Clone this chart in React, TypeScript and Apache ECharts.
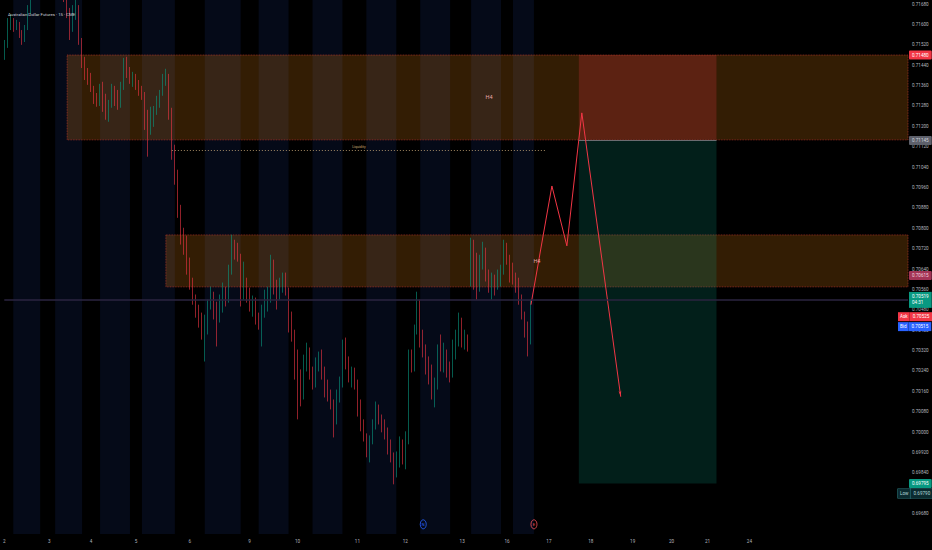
import React, { useEffect, useRef } from "react";
import * as echarts from "echarts";

const TITLE = "Australian Dollar Futures · 15 · CME";
const SLOT_COUNT = 303;

const dayTicks: [number, string][] = [
  [0, "2"], [15, "3"], [29, "4"], [44, "5"], [62, "6"], [82, "9"], [98, "10"],
  [118, "11"], [134, "12"], [153, "13"], [168, "16"], [182, "17"], [196, "18"],
  [210, "19"], [223, "20"], [235, "21"], [249, "24"],
];

const sessionBands: [number, number][] = [
  [3, 12], [17, 26], [32, 42], [46, 57], [67, 79], [85, 95], [103, 113],
  [121, 131], [139, 149], [156, 166], [170, 177],
];

// [open, close, low, high]
const candles: number[][] = [
  [0.71480, 0.71520, 0.71461, 0.71539], [0.71520, 0.71598, 0.71508, 0.71625],
  [0.71598, 0.71610, 0.71578, 0.71641], [0.71610, 0.71586, 0.71571, 0.71625],
  [0.71586, 0.71602, 0.71578, 0.71618], [0.71602, 0.71559, 0.71547, 0.71610],
  [0.71559, 0.71539, 0.71520, 0.71578], [0.71539, 0.71586, 0.71531, 0.71598],
  [0.71586, 0.71649, 0.71578, 0.71676], [0.71649, 0.71735, 0.71641, 0.71774],
  [0.71735, 0.71794, 0.71716, 0.71833], [0.71794, 0.71853, 0.71774, 0.71892],
  [0.71853, 0.71833, 0.71814, 0.71912], [0.71833, 0.71892, 0.71814, 0.71931],
  [0.71892, 0.71872, 0.71853, 0.71939], [0.71872, 0.71814, 0.71794, 0.71912],
  [0.71814, 0.71845, 0.71794, 0.71872], [0.71845, 0.71794, 0.71774, 0.71861],
  [0.71794, 0.71755, 0.71735, 0.71814], [0.71755, 0.71774, 0.71727, 0.71806],
  [0.71774, 0.71716, 0.71688, 0.71794], [0.71716, 0.71657, 0.71625, 0.71735],
  [0.71657, 0.71578, 0.71539, 0.71665], [0.71578, 0.71637, 0.71571, 0.71676],
  [0.71637, 0.71665, 0.71618, 0.71704], [0.71665, 0.71539, 0.71520, 0.71676],
  [0.71539, 0.71453, 0.71429, 0.71547], [0.71453, 0.71422, 0.71382, 0.71473],
  [0.71422, 0.71382, 0.71363, 0.71429], [0.71382, 0.71351, 0.71335, 0.71410],
  [0.71351, 0.71312, 0.71288, 0.71359], [0.71312, 0.71296, 0.71277, 0.71331],
  [0.71296, 0.71343, 0.71280, 0.71367], [0.71343, 0.71320, 0.71257, 0.71375],
  [0.71320, 0.71257, 0.71226, 0.71328], [0.71257, 0.71288, 0.71218, 0.71304],
  [0.71288, 0.71335, 0.71273, 0.71367], [0.71335, 0.71312, 0.71280, 0.71359],
  [0.71312, 0.71288, 0.71265, 0.71343], [0.71288, 0.71351, 0.71273, 0.71375],
  [0.71351, 0.71445, 0.71343, 0.71469], [0.71445, 0.71414, 0.71390, 0.71473],
  [0.71414, 0.71390, 0.71367, 0.71433], [0.71390, 0.71398, 0.71355, 0.71414],
  [0.71398, 0.71367, 0.71343, 0.71406], [0.71367, 0.71343, 0.71320, 0.71382],
  [0.71343, 0.71328, 0.71304, 0.71359], [0.71328, 0.71233, 0.71186, 0.71335],
  [0.71233, 0.71179, 0.71081, 0.71265], [0.71179, 0.71233, 0.71167, 0.71277],
  [0.71233, 0.71257, 0.71198, 0.71280], [0.71257, 0.71304, 0.71245, 0.71320],
  [0.71304, 0.71328, 0.71273, 0.71343], [0.71328, 0.71382, 0.71320, 0.71406],
  [0.71382, 0.71398, 0.71359, 0.71426], [0.71398, 0.71265, 0.71226, 0.71406],
  [0.71265, 0.71108, 0.71069, 0.71273], [0.71108, 0.71010, 0.70971, 0.71128],
  [0.71010, 0.70873, 0.70841, 0.71030], [0.70873, 0.70775, 0.70736, 0.70892],
  [0.70775, 0.70763, 0.70696, 0.70802], [0.70763, 0.70669, 0.70618, 0.70771],
  [0.70669, 0.70591, 0.70559, 0.70685], [0.70591, 0.70528, 0.70500, 0.70606],
  [0.70528, 0.70481, 0.70449, 0.70540], [0.70481, 0.70434, 0.70410, 0.70500],
  [0.70434, 0.70402, 0.70363, 0.70469], [0.70402, 0.70422, 0.70277, 0.70461],
  [0.70422, 0.70500, 0.70383, 0.70520], [0.70500, 0.70540, 0.70481, 0.70571],
  [0.70540, 0.70481, 0.70442, 0.70551], [0.70481, 0.70449, 0.70336, 0.70512],
  [0.70449, 0.70520, 0.70430, 0.70540], [0.70520, 0.70551, 0.70469, 0.70587],
  [0.70551, 0.70520, 0.70493, 0.70571], [0.70520, 0.70638, 0.70508, 0.70657],
  [0.70638, 0.70736, 0.70618, 0.70775], [0.70736, 0.70716, 0.70677, 0.70755],
  [0.70716, 0.70692, 0.70669, 0.70743], [0.70692, 0.70559, 0.70493, 0.70700],
  [0.70559, 0.70598, 0.70520, 0.70669], [0.70598, 0.70551, 0.70508, 0.70606],
  [0.70551, 0.70500, 0.70473, 0.70567], [0.70500, 0.70520, 0.70453, 0.70536],
  [0.70520, 0.70449, 0.70422, 0.70528], [0.70449, 0.70426, 0.70402, 0.70469],
  [0.70426, 0.70481, 0.70336, 0.70500], [0.70481, 0.70520, 0.70449, 0.70559],
  [0.70520, 0.70540, 0.70473, 0.70571], [0.70540, 0.70657, 0.70508, 0.70696],
  [0.70657, 0.70579, 0.70540, 0.70677], [0.70579, 0.70540, 0.70481, 0.70598],
  [0.70540, 0.70579, 0.70520, 0.70606], [0.70579, 0.70606, 0.70547, 0.70626],
  [0.70606, 0.70559, 0.70536, 0.70626], [0.70559, 0.70461, 0.70391, 0.70567],
  [0.70461, 0.70383, 0.70355, 0.70473], [0.70383, 0.70304, 0.70206, 0.70402],
  [0.70304, 0.70226, 0.70050, 0.70324], [0.70226, 0.70148, 0.70101, 0.70246],
  [0.70148, 0.70285, 0.70128, 0.70304], [0.70285, 0.70316, 0.70238, 0.70351],
  [0.70316, 0.70226, 0.70206, 0.70332], [0.70226, 0.70187, 0.70167, 0.70257],
  [0.70187, 0.70265, 0.70175, 0.70293], [0.70265, 0.70300, 0.70238, 0.70316],
  [0.70300, 0.70238, 0.70206, 0.70324], [0.70238, 0.70187, 0.70136, 0.70257],
  [0.70187, 0.70148, 0.70120, 0.70206], [0.70148, 0.70108, 0.70089, 0.70167],
  [0.70108, 0.70050, 0.69979, 0.70128], [0.70050, 0.70148, 0.70030, 0.70167],
  [0.70148, 0.70187, 0.70116, 0.70218], [0.70187, 0.70324, 0.70175, 0.70363],
  [0.70324, 0.70277, 0.70246, 0.70371], [0.70277, 0.70214, 0.70195, 0.70297],
  [0.70214, 0.70238, 0.70175, 0.70257], [0.70238, 0.70187, 0.70167, 0.70253],
  [0.70187, 0.70108, 0.70061, 0.70206], [0.70108, 0.70030, 0.70003, 0.70128],
  [0.70030, 0.69979, 0.69963, 0.70050], [0.69979, 0.69932, 0.69901, 0.69995],
  [0.69932, 0.69971, 0.69881, 0.69987], [0.69971, 0.70030, 0.69952, 0.70050],
  [0.70030, 0.70097, 0.70010, 0.70120], [0.70097, 0.70057, 0.70030, 0.70108],
  [0.70057, 0.70030, 0.69999, 0.70069], [0.70030, 0.70003, 0.69971, 0.70050],
  [0.70003, 0.69952, 0.69912, 0.70018], [0.69952, 0.69901, 0.69881, 0.69971],
  [0.69901, 0.69854, 0.69795, 0.69920], [0.69854, 0.69893, 0.69822, 0.69924],
  [0.69893, 0.69940, 0.69861, 0.69983], [0.69940, 0.69912, 0.69873, 0.69971],
  [0.69912, 0.69971, 0.69854, 0.70003], [0.69971, 0.70285, 0.69952, 0.70324],
  [0.70285, 0.70253, 0.70234, 0.70324], [0.70253, 0.70402, 0.70238, 0.70422],
  [0.70402, 0.70500, 0.70383, 0.70551], [0.70500, 0.70363, 0.70332, 0.70520],
  [0.70363, 0.70324, 0.70293, 0.70402], [0.70324, 0.70277, 0.70226, 0.70344],
  [0.70277, 0.70238, 0.70187, 0.70297], [0.70238, 0.70167, 0.70128, 0.70265],
  [0.70167, 0.70187, 0.70097, 0.70214], [0.70187, 0.70324, 0.70167, 0.70344],
  [0.70324, 0.70285, 0.70238, 0.70383], [0.70285, 0.70304, 0.70234, 0.70351],
  [0.70304, 0.70246, 0.70214, 0.70324], [0.70246, 0.70226, 0.70195, 0.70277],
  [0.70226, 0.70332, 0.70214, 0.70363], [0.70332, 0.70383, 0.70285, 0.70402],
  [0.70383, 0.70442, 0.70336, 0.70469], [0.70442, 0.70363, 0.70332, 0.70449],
  [0.70363, 0.70371, 0.70324, 0.70402], [0.70371, 0.70344, 0.70316, 0.70383],
  [0.70677, 0.70696, 0.70571, 0.70763], [0.70696, 0.70618, 0.70559, 0.70755],
  [0.70618, 0.70579, 0.70520, 0.70704], [0.70579, 0.70669, 0.70551, 0.70696],
  [0.70669, 0.70716, 0.70638, 0.70747], [0.70716, 0.70618, 0.70591, 0.70724],
  [0.70618, 0.70579, 0.70547, 0.70638], [0.70579, 0.70606, 0.70520, 0.70626],
  [0.70606, 0.70567, 0.70536, 0.70618], [0.70567, 0.70598, 0.70559, 0.70638],
  [0.70598, 0.70638, 0.70571, 0.70657], [0.70638, 0.70736, 0.70618, 0.70755],
  [0.70736, 0.70685, 0.70657, 0.70743], [0.70685, 0.70645, 0.70587, 0.70696],
  [0.70645, 0.70618, 0.70579, 0.70665], [0.70618, 0.70591, 0.70547, 0.70626],
  [0.70591, 0.70528, 0.70500, 0.70606], [0.70528, 0.70461, 0.70442, 0.70540],
  [0.70461, 0.70402, 0.70371, 0.70473], [0.70402, 0.70363, 0.70297, 0.70434],
  [0.70363, 0.70500, 0.70344, 0.70520],
];

// zones: [start slot, end slot, low price, high price]
const supplyZone: number[] = [21, 302, 0.71147, 0.7148];
const demandZone: number[] = [54, 302, 0.7057, 0.70774];
const positionSlots: number[] = [192, 238];
const stopPrice = 0.7148;
const entryPrice = 0.71147;
const targetPrice = 0.69798;
const liquidityLine: number[] = [56, 181, 0.71107];
const projection: [number, number][] = [
  [176, 0.705], [183, 0.70966], [188, 0.70731], [193, 0.71253], [206, 0.70139],
];
const h4Labels: [number, number][] = [[162, 0.71316], [178, 0.70673]];
const eventMarks: [number, number, string, string][] = [
  [140, 0.69638, "N", "#2962ff"],
  [177, 0.69638, "E", "#f7525f"],
];
const lastPrice = 0.70519;

// right-axis tags: [position price, key text, value text, background, text colour]
const priceTags: [number, string, string, string, string][] = [
  [0.7148, "", "0.71480", "#f23645", "#ffffff"],
  [0.71145, "", "0.71145", "#5d606b", "#d1d4dc"],
  [0.70615, "", "0.70615", "#a33456", "#f3d6de"],
  [0.70453, "Ask", "0.70525", "#f23645", "#ffffff"],
  [0.70414, "Bid", "0.70515", "#2962ff", "#ffffff"],
  [0.69798, "", "0.69795", "#089981", "#ffffff"],
  [0.69759, "Low", "0.69790", "#0b2b30", "#b2d8d8"],
];

const FONT = "Roboto, sans-serif";

export default function App() {
  const ref = useRef<HTMLDivElement>(null);

  useEffect(() => {
    document.body.style.margin = "0";
    document.body.style.background = "#000";
    if (!ref.current) return;
    const chart = echarts.init(ref.current, undefined, { renderer: "svg" });

    const names: string[] = Array.from({ length: SLOT_COUNT }, () => "");
    dayTicks.forEach(([s, t]) => (names[s] = t));

    const tagLines = priceTags.map(([v, key, val, bg, fg]) => {
      const low = key === "Low";
      const seg = (pad: number[]) => ({
        backgroundColor: bg,
        color: fg,
        padding: pad,
        fontSize: 4.6,
        fontFamily: FONT,
        borderColor: low ? "#2c7d82" : bg,
        borderWidth: low ? 0.6 : 0,
      });
      return {
        yAxis: v,
        lineStyle: { color: "rgba(0,0,0,0)", width: 0 },
        label: {
          show: true,
          position: "end",
          distance: key ? -10 : 1,
          formatter: key ? `{k|${key}}{v|${val}}` : val,
          backgroundColor: key ? "transparent" : bg,
          color: fg,
          padding: key ? 0 : [2, 3],
          fontSize: 4.6,
          fontFamily: FONT,
          borderRadius: 1,
          rich: key ? { k: seg([2, 2]), v: seg([2, 3]) } : {},
        },
      };
    });

    const option: any = {
      animation: false,
      backgroundColor: "#000000",
      title: {
        text: TITLE,
        left: 3,
        top: 7,
        textStyle: { color: "#d1d4dc", fontSize: 4.3, fontWeight: "normal", fontFamily: FONT },
      },
      grid: { left: 0, right: 24, top: 0, bottom: 16, containLabel: false },
      xAxis: {
        type: "category",
        data: names,
        boundaryGap: false,
        axisLine: { show: false },
        axisTick: { show: false },
        splitLine: { show: false },
        axisLabel: { interval: 0, color: "#b2b5be", fontSize: 4.6, margin: 5, fontFamily: FONT },
      },
      yAxis: {
        type: "value",
        position: "right",
        min: 0.696,
        max: 0.71696,
        interval: 0.0008,
        axisLine: { show: false },
        axisTick: { show: false },
        splitLine: { show: false },
        axisLabel: {
          color: "#b2b5be",
          fontSize: 4.6,
          margin: 4,
          fontFamily: FONT,
          formatter: (v: number) => {
            const k = v / 0.0008;
            return Math.abs(k - Math.round(k)) < 1e-4 && v > 0.6961 && v < 0.7169 ? v.toFixed(5) : "";
          },
        },
      },
      series: [
        {
          type: "line",
          data: [],
          silent: true,
          markArea: {
            silent: true,
            z: 0,
            itemStyle: { color: "#050a18" },
            data: sessionBands.map(([a, b]) => [{ xAxis: a }, { xAxis: b }]),
          },
        },
        {
          type: "line",
          data: [],
          silent: true,
          markArea: {
            silent: true,
            z: 1,
            data: [
              [
                { xAxis: supplyZone[0], yAxis: supplyZone[3], itemStyle: { color: "rgba(255,145,20,0.2)", borderColor: "rgba(200,60,45,0.85)", borderWidth: 0.8, borderType: "dotted" } },
                { xAxis: supplyZone[1], yAxis: supplyZone[2] },
              ],
              [
                { xAxis: demandZone[0], yAxis: demandZone[3], itemStyle: { color: "rgba(255,145,20,0.2)", borderColor: "rgba(200,60,45,0.85)", borderWidth: 0.8, borderType: "dotted" } },
                { xAxis: demandZone[1], yAxis: demandZone[2] },
              ],
              [
                { xAxis: positionSlots[0], yAxis: stopPrice, itemStyle: { color: "rgba(242,54,69,0.22)" } },
                { xAxis: positionSlots[1], yAxis: entryPrice },
              ],
              [
                { xAxis: positionSlots[0], yAxis: entryPrice, itemStyle: { color: "rgba(8,153,129,0.2)" } },
                { xAxis: positionSlots[1], yAxis: targetPrice },
              ],
            ],
          },
          markLine: {
            silent: true,
            symbol: "none",
            precision: 6,
            data: [
              [
                {
                  coord: [liquidityLine[0], liquidityLine[2]],
                  lineStyle: { color: "#c9a878", width: 0.8, type: [1, 2] },
                  label: { show: true, formatter: "Liquidity", position: "insideMiddleTop", distance: 1, color: "#c9a878", fontSize: 3.6, fontFamily: FONT },
                },
                { coord: [liquidityLine[1], liquidityLine[2]] },
              ],
              [
                { coord: [positionSlots[0], entryPrice], lineStyle: { color: "#6b6b70", width: 1, type: "solid" }, label: { show: false } },
                { coord: [positionSlots[1], entryPrice] },
              ],
            ],
          },
        },
        {
          type: "candlestick",
          data: candles,
          clip: true,
          barWidth: 1.2,
          z: 2,
          itemStyle: {
            color: "#089981",
            color0: "#f23645",
            borderColor: "#089981",
            borderColor0: "#f23645",
            borderWidth: 0.6,
          },
          markPoint: {
            silent: true,
            symbol: "circle",
            symbolSize: 0,
            data: h4Labels.map(([s, p]) => ({
              coord: [s, p],
              label: { show: true, formatter: "H4", color: "#e8a7a7", fontSize: 5.5, fontFamily: FONT, position: "inside" },
            })),
          },
        },
        {
          type: "line",
          data: projection.slice(0, 4),
          symbol: "none",
          z: 3,
          lineStyle: { color: "#f23645", width: 1 },
          markLine: {
            silent: true,
            symbol: ["none", "arrow"],
            symbolSize: [2, 6],
            precision: 6,
            label: { show: false },
            data: [
              [
                { coord: projection[3], lineStyle: { color: "#f23645", width: 1, type: "solid" } },
                { coord: projection[4] },
              ],
            ],
          },
          markPoint: {
            silent: true,
            data: eventMarks.map(([s, p, t, c]) => ({
              coord: [s, p],
              symbol: "circle",
              symbolSize: [6, 9],
              itemStyle: { color: "rgba(0,0,0,0)", borderColor: c, borderWidth: 0.8 },
              label: { show: true, formatter: t, color: c, fontSize: 4, position: "inside", fontFamily: FONT },
            })),
          },
        },
        {
          type: "line",
          data: [],
          silent: true,
          markLine: {
            silent: true,
            symbol: "none",
            precision: 6,
            z: 6,
            data: [
              {
                yAxis: lastPrice,
                lineStyle: { color: "#2b2440", width: 1.5, type: "solid" },
                label: {
                  show: true,
                  position: "end",
                  distance: 1,
                  formatter: "0.70519\n04:31",
                  backgroundColor: "#089981",
                  color: "#ffffff",
                  padding: [2, 3],
                  lineHeight: 6,
                  fontSize: 4.6,
                  fontFamily: FONT,
                },
              },
              ...tagLines,
            ],
          },
        },
      ],
    };

    chart.setOption(option);
    return () => chart.dispose();
  }, []);

  return <div ref={ref} style={{ width: 932, height: 550, background: "#000" }} />;
}
